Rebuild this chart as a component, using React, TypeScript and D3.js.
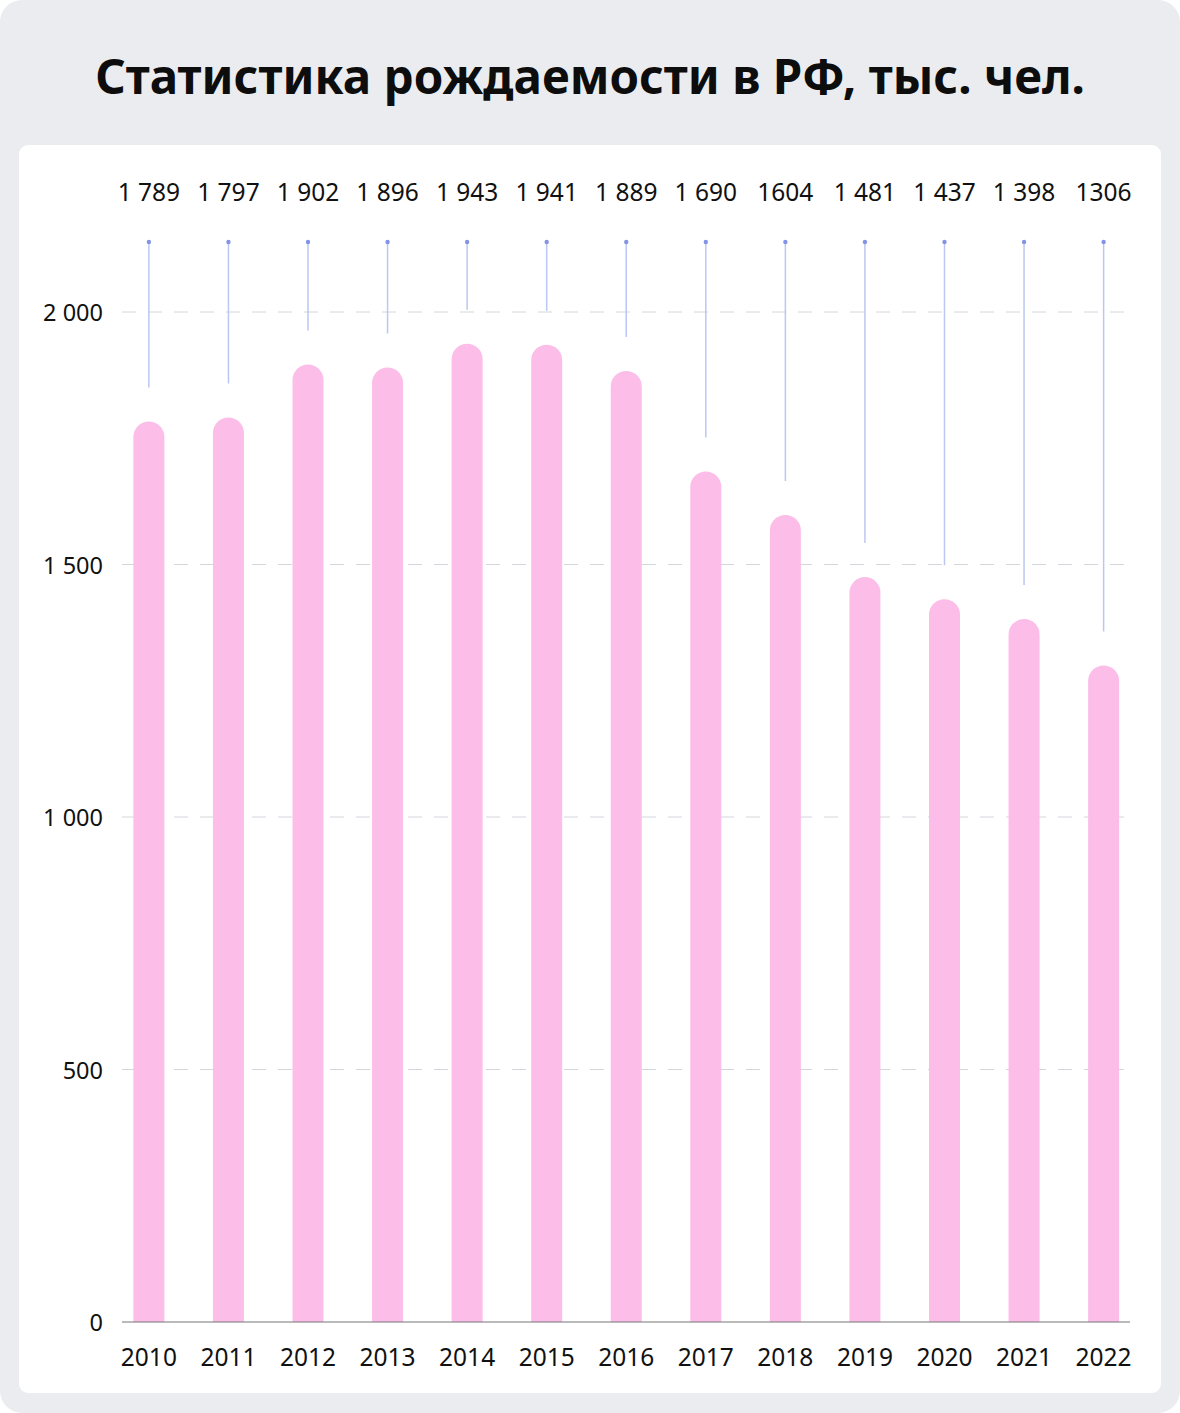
import React from "react";
import * as d3 from "d3";

const years = ["2010","2011","2012","2013","2014","2015","2016","2017","2018","2019","2020","2021","2022"];
const births = [1789,1797,1902,1896,1943,1941,1889,1690,1604,1481,1437,1398,1306];
const valueLabels = ["1 789","1 797","1 902","1 896","1 943","1 941","1 889","1 690","1604","1 481","1 437","1 398","1306"];
const yTicks = [0,500,1000,1500,2000];
const yTickLabels = ["0","500","1 000","1 500","2 000"];
const title = "Статистика рождаемости в РФ, тыс. чел.";

const W = 1180, H = 1413;

export default function App() {
  const x = d3.scaleBand<string>().domain(years).range([109.5, 1143]).paddingInner(0.61).paddingOuter(0.3);
  const y = d3.scaleLinear().domain([0, 2000]).range([1322, 312]);
  const bw = 31;
  const capInset = 3;
  const font = "'Noto Sans', 'Open Sans', sans-serif";
  const cx = (yr: string) => (x(yr) as number) + x.bandwidth() / 2;
  return (
    <svg width={W} height={H} style={{ display: "block", position: "absolute", left: 0, top: 0 }}>
      <rect x={0} y={0} width={W} height={H} fill="#ffffff" />
      <rect x={0} y={0} width={W} height={H} rx={22} fill="#ebecf0" />
      <rect x={19} y={145} width={1142} height={1248} rx={9} fill="#ffffff" />
      <text x={590} y={75} textAnchor="middle" dominantBaseline="central" fontFamily="'Noto Sans', 'Open Sans', sans-serif" fontWeight={700} fontSize={47.5} fill="#0d0d0d">{title}</text>
      {yTicks.map((t, i) => (
        <g key={t}>
          {t > 0 && <line x1={122} x2={1130} y1={y(t)} y2={y(t)} stroke="#d4d6dc" strokeWidth={1} strokeDasharray="14 12" />}
          <text x={103} y={y(t)} textAnchor="end" dominantBaseline="central" fontFamily={font} fontSize={23.5} fill="#111">{yTickLabels[i]}</text>
        </g>
      ))}
      {years.map((yr, i) => {
        const c = cx(yr);
        const top = y(births[i]) + capInset;
        const path = `M${c - bw / 2},${y(0)} L${c - bw / 2},${top + bw / 2} A${bw / 2},${bw / 2} 0 0 1 ${c + bw / 2},${top + bw / 2} L${c + bw / 2},${y(0)} Z`;
        return (
          <g key={yr}>
            <path d={path} fill="#fcbde8" />
            <line x1={c} x2={c} y1={242} y2={top - 34} stroke="#bcc6f2" strokeWidth={1.5} />
            <circle cx={c} cy={242} r={2.2} fill="#8394e6" />
            <text x={c} y={191} textAnchor="middle" dominantBaseline="central" fontFamily={font} fontSize={24.5} fill="#111">{valueLabels[i]}</text>
            <text x={c} y={1356} textAnchor="middle" dominantBaseline="central" fontFamily={font} fontSize={24.5} fill="#111">{yr}</text>
          </g>
        );
      })}
      <line x1={122} x2={1130} y1={y(0)} y2={y(0)} stroke="#777" strokeWidth={1.2} />
    </svg>
  );
}
